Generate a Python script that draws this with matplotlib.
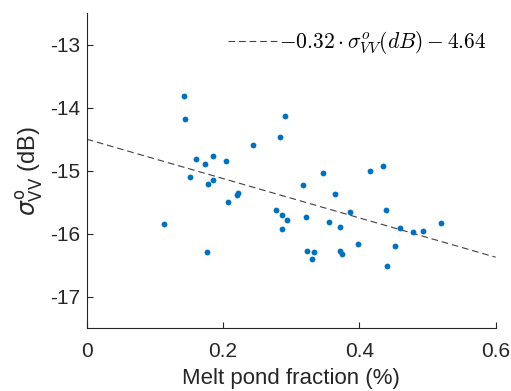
import numpy as np
import matplotlib.pyplot as plt

# melt pond fraction vs sigma0 VV
mpf = [0.142, 0.144, 0.291, 0.284, 0.244, 0.161, 0.186, 0.173, 0.204, 0.152,
       0.186, 0.178, 0.222, 0.221, 0.207, 0.277, 0.287, 0.294, 0.287, 0.113,
       0.177, 0.434, 0.415, 0.347, 0.317, 0.364, 0.386, 0.439, 0.321, 0.355,
       0.372, 0.459, 0.478, 0.494, 0.520, 0.323, 0.334, 0.331, 0.372, 0.375,
       0.398, 0.452, 0.441]
sigma_vv = [-13.81, -14.18, -14.13, -14.47, -14.60, -14.81, -14.77, -14.90, -14.84, -15.10,
            -15.15, -15.21, -15.35, -15.39, -15.49, -15.63, -15.71, -15.78, -15.92, -15.84,
            -16.29, -14.92, -15.00, -15.03, -15.23, -15.37, -15.66, -15.63, -15.74, -15.81,
            -15.89, -15.91, -15.98, -15.96, -15.83, -16.27, -16.29, -16.41, -16.27, -16.32,
            -16.16, -16.20, -16.51]

# fit: mpf = a * sigma + b
fit_a = -0.32
fit_b = -4.64
fit_x = [0.0, 0.6]

plt.rcParams['font.family'] = ['Liberation Sans', 'DejaVu Sans']

fig = plt.figure(figsize=(5.11, 3.91), dpi=100)
ax = fig.add_axes([0.1697, 0.161, 0.8003, 0.805])

ax.plot(mpf, sigma_vv, 'o', color='#0072BD', markersize=4.2, markeredgewidth=0, zorder=3)

xs = np.array(fit_x)
ys = (xs - fit_b) / fit_a
ax.plot(xs, ys, color='#404040', lw=0.8, dashes=(6, 3.5),
        label=r'$-0.32 \cdot \sigma^o_{VV}(dB) - 4.64$')

ax.set_xlim(0, 0.6)
ax.set_ylim(-17.5, -12.5)
ax.set_xticks([0, 0.2, 0.4, 0.6])
ax.set_xticklabels(['0', '0.2', '0.4', '0.6'])
ax.set_yticks([-17, -16, -15, -14, -13])
ax.set_yticklabels(['-17', '-16', '-15', '-14', '-13'])

for s in ['top', 'right']:
    ax.spines[s].set_visible(False)
for s in ['left', 'bottom']:
    ax.spines[s].set_color('#262626')
    ax.spines[s].set_linewidth(0.8)
ax.tick_params(direction='in', length=4, width=0.8, color='#262626',
               labelcolor='#262626', labelsize=15)
ax.tick_params(axis='x', pad=10)
ax.tick_params(axis='y', pad=5)

ax.set_xlabel('Melt pond fraction (%)', fontsize=16, color='#262626', labelpad=5)
ax.set_ylabel(r'$\sigma^{\mathrm{o}}_{\mathrm{VV}}$ (dB)', fontsize=17, color='#262626',
              labelpad=3, math_fontfamily='dejavusans')

leg = ax.legend(loc='upper right', bbox_to_anchor=(1.0, 0.978), frameon=False,
                fontsize=15.5, handlelength=2.3, handletextpad=0.05,
                borderpad=0.2, borderaxespad=0.22)
for t in leg.get_texts():
    t.set_math_fontfamily('cm')

fig.savefig('out.png', dpi=100)
